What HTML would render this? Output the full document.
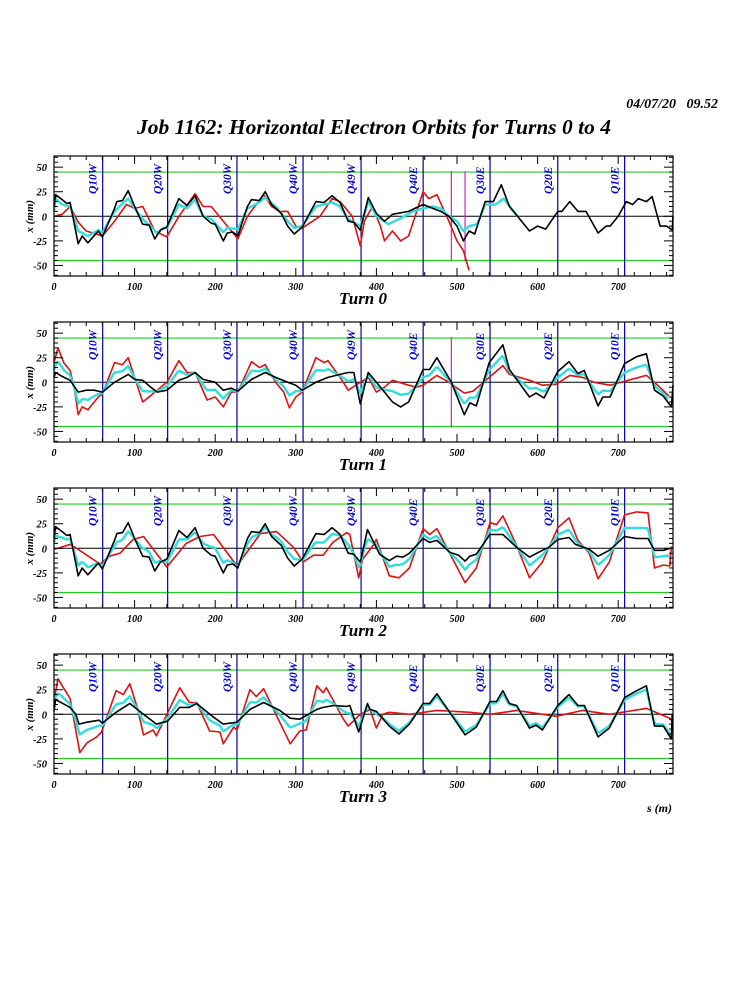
<!DOCTYPE html>
<html><head><meta charset="utf-8"><style>
html,body{margin:0;padding:0;background:#fff;width:750px;height:1000px;overflow:hidden}
svg{display:block}
text{font-family:"Liberation Serif",serif;font-weight:bold;font-style:italic}
</style></head><body>
<svg id="s" width="750" height="1000" xmlns="http://www.w3.org/2000/svg">
<text x="718" y="108" font-size="14" text-anchor="end" style="white-space:pre">04/07/20   09.52</text>
<text x="374" y="134" font-size="21.5" text-anchor="middle">Job 1162: Horizontal Electron Orbits for Turns 0 to 4</text>
<text x="672" y="812" font-size="12" text-anchor="end">s (m)</text>
</svg>
<script>
const S=document.getElementById('s');
const X0=54,KX=0.806,KY=0.983;
const tops=[156,322,488,654],H=120;
function parse(str){return str.trim().split(/\s+/).map(p=>p.split(':').map(Number));}
function interp(arr,s){if(s<=arr[0][0])return arr[0][1];for(let i=1;i<arr.length;i++){if(s<=arr[i][0]){const a=arr[i-1],b=arr[i];return a[1]+(b[1]-a[1])*(s-a[0])/(b[0]-a[0]);}}return arr[arr.length-1][1];}
const blackWestA="0:10 2:22 10:17 16:13 20:14 30:-28 35:-20 42:-27 55:-15 60:-21 75:8 78:15 85:16 92:26 100:10 110:-8 118:-9 125:-23 132:-14 140:-11 155:18 165:11 175:21 185:0 195:-7 200:-8 210:-25 215:-17 222:-16 228:-20 240:10 245:17 255:16 262:25 270:12 282:3 290:-10 298:-18 308:-11 325:15 335:14 345:21 355:14 365:-5 372:-6 380:-14 389:19";
const blackEastA="400:3 416:-12 428:-20 441:-10 458:11 466:11 475:21 491:2 510:-21 524:-13 541:13 549:13 557:24 565:11 574:9 590:-14 598:-11 606:-16 625:9 639:20 650:9 658:9 675:-23 689:-14 708:17 723:24 735:29 745:-12 756:-12 766:-25 767:0";
const P=[
{black:"0:10 2:22 10:17 16:13 20:14 30:-28 35:-20 42:-27 55:-15 60:-21 75:8 78:15 85:16 92:26 100:10 110:-8 118:-9 125:-23 132:-14 140:-11 155:18 165:11 175:21 185:0 195:-7 200:-8 210:-25 215:-17 222:-16 228:-20 240:10 245:17 255:16 262:25 270:12 282:3 290:-10 298:-18 308:-11 325:15 335:14 345:21 355:14 365:-5 372:-6 380:-14 390:19 400:3 410:-5 420:2 440:5 458:12 470:8 480:5 490:0 500:-10 508:-25 515:-15 522:-18 535:15 545:15 555:32 565:10 575:0 590:-15 600:-10 610:-13 625:5 630:5 640:15 650:5 660:5 675:-17 685:-10 690:-10 700:0 710:15 718:12 725:18 735:15 742:20 752:-10 760:-10 767:-14 768:0",
 red:"0:0 10:2 20:10 30:-6 40:-15 60:-20 75:-5 90:12 100:8 110:10 125:-15 140:-21 155:0 175:23 185:10 195:10 210:-5 220:-15 228:-23 240:0 260:22 270:10 280:5 290:5 300:-10 308:-12 330:0 345:18 355:15 370:0 380:-30 385:-5 395:10 405:-10 410:-25 420:-15 430:-25 440:-20 458:25 465:18 475:22 490:-5 500:-25 508:-35 515:-55",
 cyan:"0:5 2:18 10:12 20:10 30:-15 35:-17 42:-20 55:-14 60:-17 75:5 85:13 92:18 100:8 110:-3 120:-10 128:-18 135:-12 140:-12 155:12 165:8 175:17 185:0 195:-3 210:-16 215:-12 228:-13 240:8 250:12 262:19 275:10 290:-5 298:-12 308:-10 325:10 345:14 355:10 365:-3 380:-10 390:15 400:0 415:-8 430:-2 445:5 458:8 470:10 480:8 490:0 500:-5 508:-15 515:-10 525:-8 535:12 548:12 558:18 575:0",
 mag:[493,510]},
{black:"0:5 2:10 10:6 20:2 30:-10 40:-8 50:-8 60:-10 75:0 92:8 100:3 110:2 120:-5 128:-10 140:-8 155:2 165:5 175:10 185:3 200:0 210:-8 220:-6 228:-9 245:3 262:10 275:5 290:0 300:-3 308:-8 325:0 340:5 355:8 365:10 372:10 380:-22 385:-5 390:10 400:0 410:-10 420:-20 430:-25 440:-20 458:13 466:13 475:25 493:0 509:-33 516:-21 524:-24 540:20 557:38 565:13 590:-15 598:-11 608:-16 625:11 639:21 650:9 658:12 675:-24 681:-15 690:-15 708:19 723:26 735:29 745:-8 756:-14 766:-25 768:-3",
 red:"0:20 5:35 12:20 20:12 25:-5 30:-33 35:-25 42:-28 55:-15 60:-12 75:20 85:18 92:25 100:5 110:-20 118:-15 125:-10 140:0 155:22 165:10 175:10 190:-18 200:-15 210:-25 220:-10 228:-10 245:21 255:15 262:18 275:0 285:-10 292:-26 300:-15 308:-10 325:25 335:20 340:22 355:5 365:-8 380:0 390:5 400:-10 410:-5 420:2 440:-3 450:-5 458:-3 475:7 490:0 509:-11 520:-9 540:5 557:17 565:8 590:2 606:-3 623:-2 640:7 656:5 670:0 690:-3 708:1 735:7 745:0 763:-14",
 w:()=>0.5, mag:[493]},
{black:blackWestA+" 404:-6 416:-12.5 425:-8 433:-9 441:-5 458:10 466:6 475:8 491:-4 502:-7 510:-13 516:-8 524:-6 541:14 557:14 574:1 590:-9 606:-2 614:1 625:9 639:11 647:4 664:-1 675:-8 689:-2 708:12 723:10 737:10 745:-2 756:-2 764:0",
 red:"1:-1 20:4 28:0 57:-16 69:-8 82:-5 98:9 111:12 140:-19 164:5 181:12 198:14 227:-18 256:15 276:17 297:1 309:-14 322:-7 334:-7 346:6 363:16 367:14 378:-30 383:-11 396:3 400:9 416:-28 428:-30 441:-20 458:20 466:14 475:20 491:-5 510:-35 524:-20 541:26 549:24 557:33 574:3 590:-30 606:-14 625:21 639:31 650:8 664:-5 675:-31 689:-14 708:34 723:37 737:36 745:-20 756:-17 764:-18 766:2",
 w:()=>0.6},
{black:"0:3 2:15 20:7 27:0 31:-10 41:-8 56:-6 60:-9 77:2 94:11 111:0 127:-10 141:-7 156:7 168:7 177:11 198:-3 210:-10 227:-8 243:5 260:12 280:4 293:-4 305:-5 326:5 334:7 347:9 363:8 367:9 378:-18 389:11 392:5 "+blackEastA,
 red:"0:14 5:36 20:16 32:-39 41:-29 53:-23 59:-18 77:24 86:20 94:31 104:5 111:-21 123:-16 127:-22 156:27 168:12 177:12 193:-17 206:-18 210:-30 223:-13 227:-16 243:25 251:18 260:26 280:-8 293:-30 305:-17 313:-16 326:29 334:22 338:27 359:-5 365:-12 380:0 392:5 400:-14 408:0 416:2 441:0 475:4 516:2 541:0 574:4 623:-2 656:4 689:0 735:6 764:-4 768:-8",
 w:s=>s<385?0.63:0.85}
];
const quads=[[60.4,"Q10W"],[141,"Q20W"],[227,"Q30W"],[309,"Q40W"],[381,"Q49W"],[458,"Q40E"],[541,"Q30E"],[625,"Q20E"],[708,"Q10E"]];
let h='';
const px=s=>X0+s*KX;
function pts(arr,zy){return arr.map(p=>px(p[0]).toFixed(1)+','+(zy-p[1]*KY).toFixed(1)).join(' ');}
P.forEach((p,i)=>{
 const t=tops[i],b=t+H,zy=t+60.3,R=673;
 [45,-45].forEach(v=>h+=`<line x1="${X0}" x2="${R}" y1="${zy-v*KY}" y2="${zy-v*KY}" stroke="#22cc22" stroke-width="1.2"/>`);
 h+=`<line x1="${X0}" x2="${R}" y1="${zy}" y2="${zy}" stroke="#000" stroke-width="1"/>`;
 quads.forEach(q=>{const x=px(q[0]);h+=`<line x1="${x}" x2="${x}" y1="${t}" y2="${b}" stroke="#0000aa" stroke-width="1.2"/>`;
  h+=`<text transform="translate(${x-6},${t+38}) rotate(-90)" font-size="11.5" fill="#0000cc" font-weight="normal">${q[1]}</text>`;});
 (p.mag||[]).forEach(m=>{const x=px(m);h+=`<line x1="${x}" x2="${x}" y1="${zy-46*KY}" y2="${zy+46*KY}" stroke="#cc22cc" stroke-width="1.2"/>`;});
 const bl=parse(p.black),rd=parse(p.red);
 let cy;
 if(p.cyan)cy=parse(p.cyan);else{cy=[];const e=Math.min(bl[bl.length-1][0],rd[rd.length-1][0]);for(let s=0;s<=e;s+=2){const w=p.w(s);cy.push([s,w*interp(bl,s)+(1-w)*interp(rd,s)]);}}
 h+=`<polyline points="${pts(rd,zy)}" fill="none" stroke="#dd1111" stroke-width="1.6" stroke-linejoin="round"/>`;
 h+=`<polyline points="${pts(cy,zy)}" fill="none" stroke="#33dddd" stroke-width="2.4" stroke-linejoin="round"/>`;
 h+=`<polyline points="${pts(bl,zy)}" fill="none" stroke="#000" stroke-width="1.6" stroke-linejoin="round"/>`;
 h+=`<rect x="${X0}" y="${t}" width="${R-X0}" height="${H}" fill="none" stroke="#000" stroke-width="1.2"/>`;
 for(let s=0;s<=760;s+=20){const x=px(s),L=s%100==0?8:4;h+=`<line x1="${x}" x2="${x}" y1="${b}" y2="${b-L}" stroke="#000"/><line x1="${x}" x2="${x}" y1="${t}" y2="${t+L}" stroke="#000"/>`;}
 for(let v=-60;v<=60;v+=5){const y=zy-v*KY;if(y<t||y>b)continue;const L=v%25==0?9:4;h+=`<line x1="${X0}" x2="${X0+L}" y1="${y}" y2="${y}" stroke="#000"/><line x1="${R}" x2="${R-L}" y1="${y}" y2="${y}" stroke="#000"/>`;}
 [50,25,0,-25,-50].forEach(v=>h+=`<text x="47" y="${zy-v*KY+4}" font-size="10.5" text-anchor="end">${v}</text>`);
 for(let s=0;s<=700;s+=100)h+=`<text x="${px(s)}" y="${b+14}" font-size="10" text-anchor="middle">${s}</text>`;
 h+=`<text transform="translate(33,${zy}) rotate(-90)" font-size="11" text-anchor="middle">x (mm)</text>`;
 h+=`<text x="363" y="${b+28}" font-size="17" text-anchor="middle">Turn ${i}</text>`;
});
S.insertAdjacentHTML('beforeend',h);
</script>
</body></html>
